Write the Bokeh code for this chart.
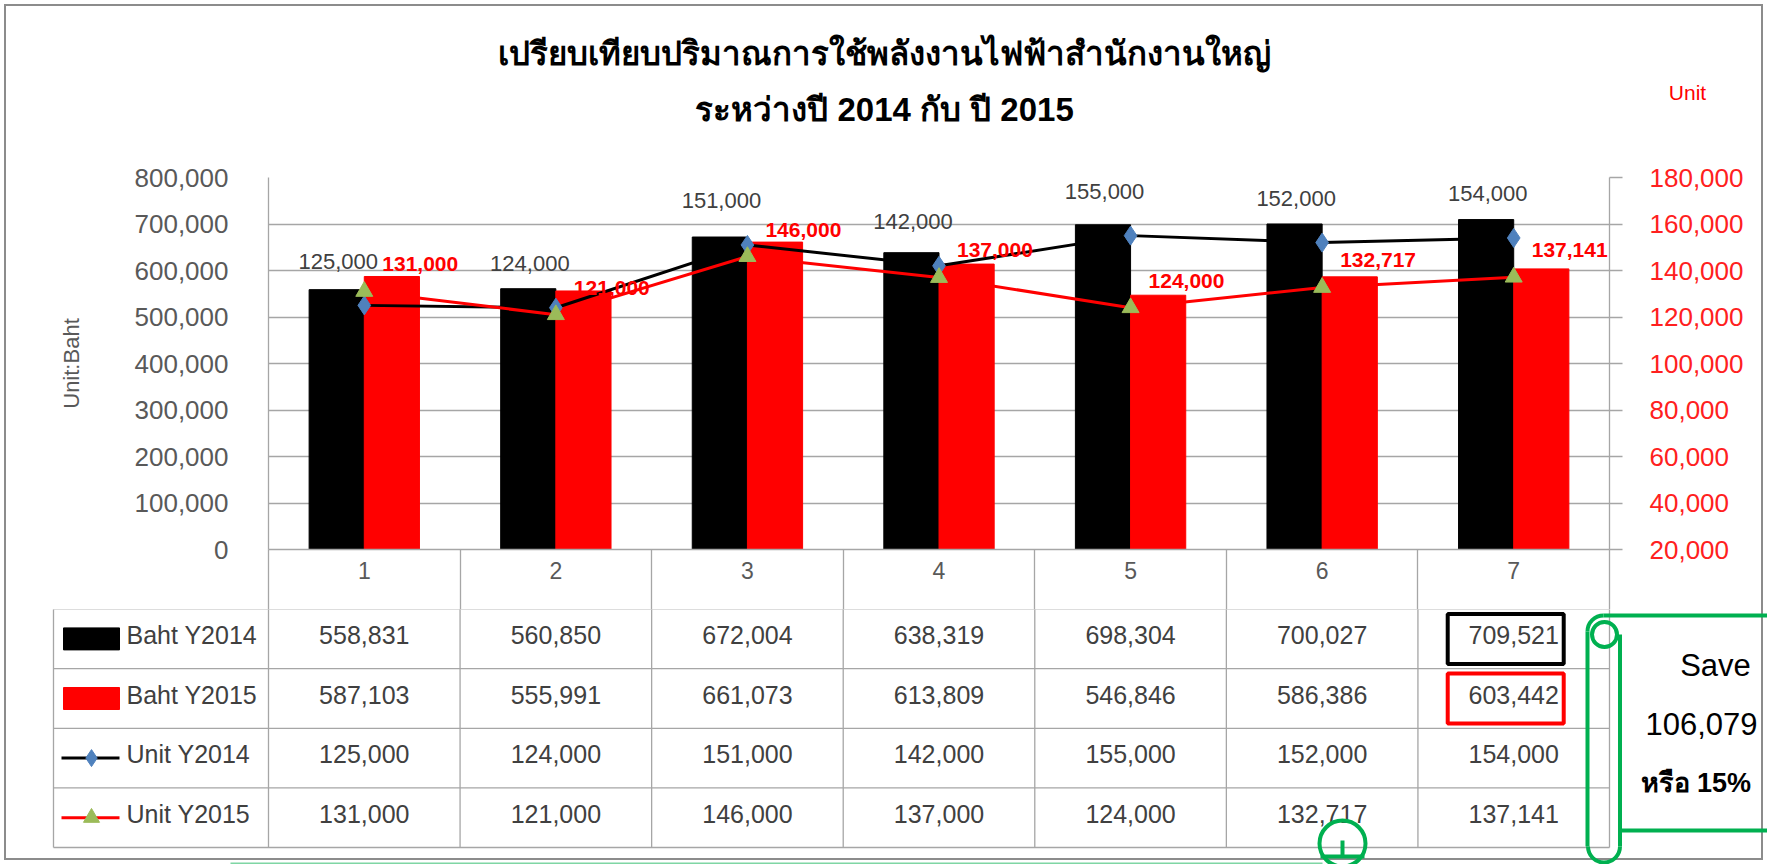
import numpy as np
from bokeh.plotting import figure
from bokeh.models import Range1d, LinearAxis, FixedTicker, NumeralTickFormatter
from bokeh.layouts import column
from bokeh.embed import file_html
from bokeh.resources import INLINE
from bokeh.core.properties import value

# ---------------- data ----------------
categories = ["1", "2", "3", "4", "5", "6", "7"]
baht_2014 = [558831, 560850, 672004, 638319, 698304, 700027, 709521]
baht_2015 = [587103, 555991, 661073, 613809, 546846, 586386, 603442]
unit_2014 = [125000, 124000, 151000, 142000, 155000, 152000, 154000]
unit_2015 = [131000, 121000, 146000, 137000, 124000, 132717, 137141]
baht_ticks = [0, 100000, 200000, 300000, 400000, 500000, 600000, 700000, 800000]
unit_ticks = [20000, 40000, 60000, 80000, 100000, 120000, 140000, 160000, 180000]
series_names = ["Baht Y2014", "Baht Y2015", "Unit Y2014", "Unit Y2015"]
title_lines = ["เปรียบเทียบปริมาณการใช้พลังงานไฟฟ้าสำนักงานใหญ่", "ระหว่างปี 2014 กับ ปี 2015"]
left_axis_title = "Unit:Baht"
right_axis_title = "Unit"
save_word = "Save"
or_word = "หรือ"

# ---------------- layout geometry (pixels) ----------------
W, H = 1767, 864
FL, FR, FT, FB = 268, 1609, 177, 549
HT = 140            # title strip height
HA_BOTTOM = 609     # bottom edge of chart figure (= bottom of category row)
n = len(categories)
cw = (FR - FL) / n
rh = 59.6
FONT = "Liberation Sans"
GRID = "#a6a6a6"
TXT = "#404040"
GREEN = "#00B050"


def bx(px):
    return 0.5 - FL / cw + px / cw


def by(py):
    return (py - FB) / rh


def no_align(fig):
    try:
        fig.frame_align = False
    except Exception as exc:  # older bokeh
        print("frame_align unavailable:", exc)


xs = np.arange(1, n + 1)
bw = 0.288
edges = [i + 0.5 for i in range(n + 1)]

# ---------------- title strip (figure T) ----------------
pT = figure(width=W, height=HT, x_range=Range1d(0, W), y_range=Range1d(HT, 0),
            x_axis_location=None, y_axis_location=None, output_backend="svg",
            toolbar_location=None, min_border=0, min_border_left=0, min_border_right=0,
            min_border_top=0, min_border_bottom=0,
            background_fill_color=None, border_fill_color=None, outline_line_color=None)
pT.grid.visible = False
no_align(pT)
pT.text([884, 884], [53, 109], text=title_lines, text_align="center", text_baseline="middle",
        text_font=value(FONT), text_font_size="33px", text_font_style="bold", text_color="black")
pT.text([1687], [92], text=[right_axis_title], text_align="center", text_baseline="middle",
        text_font=value(FONT), text_font_size="21px", text_color="#FF0000")

# ---------------- chart (figure A) ----------------
pA = figure(width=W, height=HA_BOTTOM - HT, x_range=Range1d(0.5, n + 0.5),
            y_range=Range1d(0, 800000), output_backend="svg", toolbar_location=None,
            min_border_left=FL, min_border_right=W - FR, min_border_top=FT - HT,
            min_border_bottom=HA_BOTTOM - FB,
            background_fill_color=None, border_fill_color=None, outline_line_color=None)
no_align(pA)
pA.xgrid.visible = False
pA.ygrid.ticker = FixedTicker(ticks=baht_ticks)
pA.ygrid.grid_line_color = GRID
pA.ygrid.grid_line_width = 1.3

# x axis: category labels, minor ticks draw the column separators of the table row
ROW0 = HA_BOTTOM - FB
xa = pA.xaxis[0]
xa.ticker = FixedTicker(ticks=[int(v) for v in xs], minor_ticks=edges)
xa.major_label_overrides = {int(v): c for v, c in zip(xs, categories)}
xa.major_label_text_font = FONT
xa.major_label_text_font_size = "23px"
xa.major_label_text_color = "#595959"
xa.major_label_standoff = 12 - ROW0
xa.major_tick_out = 0
xa.major_tick_in = 0
xa.minor_tick_out = ROW0
xa.minor_tick_in = 0
xa.minor_tick_line_color = GRID
xa.minor_tick_line_width = 1.3
xa.axis_line_color = GRID
xa.axis_line_width = 1.3

ya = pA.yaxis[0]
ya.ticker = FixedTicker(ticks=baht_ticks)
ya.formatter = NumeralTickFormatter(format="0,0")
ya.major_label_text_font = FONT
ya.major_label_text_font_size = "26px"
ya.major_label_text_color = "#595959"
ya.major_tick_out = 0
ya.major_tick_in = 0
ya.minor_tick_out = 0
ya.minor_tick_in = 0
ya.axis_line_color = GRID
ya.axis_line_width = 1.3
ya.major_label_standoff = 40
ya.axis_label = left_axis_title
ya.axis_label_text_font = FONT
ya.axis_label_text_font_size = "22px"
ya.axis_label_text_font_style = "normal"
ya.axis_label_text_color = "#595959"
ya.axis_label_standoff = 48

pA.extra_y_ranges = {"unit": Range1d(20000, 180000)}
ra = LinearAxis(y_range_name="unit", ticker=FixedTicker(ticks=unit_ticks),
                formatter=NumeralTickFormatter(format="0,0"))
ra.major_label_text_font = FONT
ra.major_label_text_font_size = "26px"
ra.major_label_text_color = "#ff2020"
ra.major_tick_out = 13
ra.major_tick_in = 0
ra.minor_tick_out = 0
ra.minor_tick_in = 0
ra.major_tick_line_color = GRID
ra.major_tick_line_width = 1.3
ra.axis_line_color = GRID
ra.axis_line_width = 1.3
ra.major_label_standoff = 27
pA.add_layout(ra, "right")

pA.vbar(x=xs - bw / 2, top=baht_2014, width=bw, fill_color="black", line_color="black")
pA.vbar(x=xs + bw / 2, top=baht_2015, width=bw, fill_color="#FF0000", line_color="#FF0000")

pA.line(xs, unit_2014, y_range_name="unit", line_color="black", line_width=3)
pA.scatter(xs, unit_2014, y_range_name="unit", marker="diamond", size=19,
           fill_color="#4F81BD", line_color="#4F81BD")
pA.line(xs, unit_2015, y_range_name="unit", line_color="#FF0000", line_width=3)
pA.scatter(xs, unit_2015, y_range_name="unit", marker="triangle", size=17,
           fill_color="#9BBB59", line_color="#9BBB59")

pA.text(xs, unit_2014, text=[f"{v:,}" for v in unit_2014], y_range_name="unit",
        x_offset=-26, y_offset=-44, text_align="center", text_baseline="middle",
        text_font=value(FONT), text_font_size="22px", text_color=TXT)
pA.text(xs, unit_2015, text=[f"{v:,}" for v in unit_2015], y_range_name="unit",
        x_offset=18, y_offset=-27, text_align="left", text_baseline="middle",
        text_font=value(FONT), text_font_size="21px", text_font_style="bold",
        text_color="#FF0000")

# ---------------- data table (figure B) ----------------
HB = H - HA_BOTTOM
pB = figure(width=W, height=HB, x_range=Range1d(bx(0), bx(W)),
            y_range=Range1d(by(H), by(HA_BOTTOM)),
            x_axis_location=None, y_axis_location=None, output_backend="svg",
            toolbar_location=None, min_border=0, min_border_left=0, min_border_right=0,
            min_border_top=0, min_border_bottom=0,
            background_fill_color=None, border_fill_color=None, outline_line_color=None)
pB.grid.visible = False
no_align(pB)

nrows = len(series_names) + 1
leg_left = bx(53)
pB.segment(x0=edges, y0=[0] * len(edges), x1=edges, y1=[nrows] * len(edges),
           line_color=GRID, line_width=1.3)
pB.segment(x0=[leg_left], y0=[1], x1=[leg_left], y1=[nrows], line_color=GRID, line_width=1.3)
hy = list(range(1, nrows + 1))
pB.segment(x0=[leg_left] * len(hy), y0=hy, x1=[n + 0.5] * len(hy), y1=hy,
           line_color=GRID, line_width=1.3)

rows_vals = [baht_2014, baht_2015, unit_2014, unit_2015]
for r, (name, vals) in enumerate(zip(series_names, rows_vals), start=1):
    pB.text(xs, [r + 0.5] * n, text=[f"{v:,}" for v in vals], y_offset=-4,
            text_align="center", text_baseline="middle", text_font=value(FONT),
            text_font_size="25px", text_color=TXT)
    pB.text([bx(126)], [r + 0.5], text=[name], y_offset=-4, text_align="left",
            text_baseline="middle", text_font=value(FONT), text_font_size="25px",
            text_color=TXT)

# legend keys
pB.rect(x=[bx(91)], y=[1.5], width=56, height=22, width_units="screen", height_units="screen",
        fill_color="black", line_color="black")
pB.rect(x=[bx(91)], y=[2.5], width=56, height=22, width_units="screen", height_units="screen",
        fill_color="#FF0000", line_color="#FF0000")
pB.segment(x0=[bx(61)], y0=[3.5], x1=[bx(119)], y1=[3.5], line_color="black", line_width=3)
pB.scatter([bx(91)], [3.5], marker="diamond", size=17, fill_color="#4F81BD", line_color="#4F81BD")
pB.segment(x0=[bx(61)], y0=[4.5], x1=[bx(119)], y1=[4.5], line_color="#FF0000", line_width=3)
pB.scatter([bx(91)], [4.5], marker="triangle", size=16, fill_color="#9BBB59", line_color="#9BBB59")

# highlight boxes on last category
pB.rect(x=[n - 8 / cw], y=[1.5], width=116, height=50, width_units="screen", height_units="screen",
        fill_color=None, line_color="black", line_width=4)
pB.rect(x=[n - 8 / cw], y=[2.5], width=116, height=50, width_units="screen", height_units="screen",
        fill_color=None, line_color="#FF0000", line_width=4)

# green scroll call-out
pB.arc(x=[bx(1603)], y=[by(631)], radius=16, radius_units="screen",
       start_angle=np.pi / 2, end_angle=np.pi, line_color=GREEN, line_width=4)
pB.arc(x=[bx(1603.5)], y=[by(846)], radius=16, radius_units="screen",
       start_angle=np.pi, end_angle=2 * np.pi, line_color=GREEN, line_width=4)
pB.segment(x0=[bx(1587), bx(1619.5), bx(1603), bx(1619.5)],
           y0=[by(631), by(634), by(615), by(830)],
           x1=[bx(1587), bx(1619.5), bx(W + 10), bx(W + 10)],
           y1=[by(846), by(846), by(615), by(830)], line_color=GREEN, line_width=4)
pB.circle(x=[bx(1604)], y=[by(634)], radius=12.5, radius_units="screen",
          fill_color=None, line_color=GREEN, line_width=4)

saving = baht_2014[-1] - baht_2015[-1]
pct = round(100 * saving / baht_2014[-1])
pB.text([bx(1715)], [by(665)], text=[save_word], text_align="center", text_baseline="middle",
        text_font=value(FONT), text_font_size="31px", text_color="black")
pB.text([bx(1645)], [by(723)], text=[f"{saving:,}"], text_align="left", text_baseline="middle",
        text_font=value(FONT), text_font_size="31px", text_color="black")
pB.text([bx(1640)], [by(782)], text=[f"{or_word} {pct}%"], text_align="left",
        text_baseline="middle", text_font=value(FONT), text_font_size="27px",
        text_font_style="bold", text_color="black")

# partial shape at the bottom edge
pB.circle(x=[bx(1342)], y=[by(843)], radius=23, radius_units="screen",
          fill_color=None, line_color=GREEN, line_width=4)
pB.segment(x0=[bx(1342), bx(1320)], y0=[by(840), by(856)], x1=[bx(1342), bx(1364)],
           y1=[by(856), by(856)], line_color=GREEN, line_width=4)
pB.segment(x0=[bx(230)], y0=[by(863)], x1=[bx(1322)], y1=[by(863)],
           line_color="#7fd6a4", line_width=2)

layout = column(pT, pA, pB, spacing=0,
                styles={"outline": "2px solid #8c8c8c", "outline-offset": "-6px",
                        "background-color": "white"})

open("out.html", "w").write(file_html(layout, INLINE))
